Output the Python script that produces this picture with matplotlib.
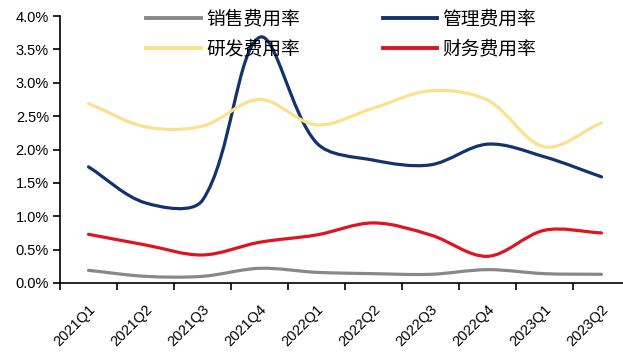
import numpy as np
import matplotlib
matplotlib.use("Agg")
from matplotlib import pyplot as plt
from matplotlib.path import Path
from matplotlib.patches import PathPatch
from matplotlib.lines import Line2D

plt.rcParams['font.family'] = ['Liberation Sans', 'Noto Sans CJK SC', 'DejaVu Sans']

quarters = ["2021Q1", "2021Q2", "2021Q3", "2021Q4", "2022Q1",
            "2022Q2", "2022Q3", "2022Q4", "2023Q1", "2023Q2"]

# values in %
sales = [0.19, 0.10, 0.10, 0.22, 0.16, 0.14, 0.13, 0.20, 0.14, 0.13]
admin = [1.74, 1.20, 1.24, 3.68, 2.10, 1.84, 1.77, 2.08, 1.89, 1.59]
rnd = [2.69, 2.34, 2.35, 2.75, 2.37, 2.62, 2.88, 2.74, 2.04, 2.40]
finance = [0.73, 0.57, 0.42, 0.61, 0.72, 0.90, 0.72, 0.40, 0.79, 0.75]

names = ["销售费用率", "管理费用率", "研发费用率", "财务费用率"]
colors = ["#888888", "#12336e", "#fde08e", "#de1520"]

# pixels per x unit / per 1%, used so the smoothing behaves like on screen
SX, SY = 57.0, 66.8


def smooth_path(x, y):
    # smoothed line: bezier segments, tangents weighted by segment length
    pts = np.column_stack([np.asarray(x) * SX, np.asarray(y) * SY]).astype(float)
    n = len(pts)
    d = np.hypot(*np.diff(pts, axis=0).T)
    verts = [pts[0]]
    codes = [Path.MOVETO]
    for i in range(n - 1):
        p1, p2 = pts[i], pts[i + 1]
        if i > 0:
            c1 = p1 + (p2 - pts[i - 1]) * d[i] / (3 * (d[i - 1] + d[i]))
        else:
            c1 = p1 + (p2 - p1) / 3.0
        if i + 2 < n:
            c2 = p2 - (pts[i + 2] - p1) * d[i] / (3 * (d[i] + d[i + 1]))
        else:
            c2 = p2 - (p2 - p1) / 3.0
        verts += [c1, c2, p2]
        codes += [Path.CURVE4] * 3
    verts = np.array(verts) / [SX, SY]
    return Path(verts, codes)


fig = plt.figure(figsize=(6.23, 3.52), dpi=100)
ax = fig.add_axes([60 / 623, 1 - 283 / 352, 570 / 623, (283 - 16) / 352])

x = np.arange(len(quarters))
for vals, c in zip([sales, admin, rnd, finance], colors):
    patch = PathPatch(smooth_path(x, vals), facecolor="none", edgecolor=c,
                      lw=2.3, capstyle="round", joinstyle="round")
    ax.add_patch(patch)

ax.set_xlim(-0.5, len(quarters) - 0.5)
ax.set_ylim(0, 4.0)
ax.set_yticks(np.arange(0, 4.01, 0.5))
ax.set_yticklabels([f"{v:.1f}%" for v in np.arange(0, 4.01, 0.5)], fontsize=10.5)

ax.set_xticks(x)
ax.set_xticklabels(quarters, rotation=45, ha="right", rotation_mode="anchor", fontsize=10.5)
ax.set_xticks(np.arange(-0.5, len(quarters), 1), minor=True)
ax.tick_params(axis="x", which="major", length=0, pad=14)
ax.tick_params(axis="x", which="minor", length=5, width=1.2, direction="out")
ax.tick_params(axis="y", length=5, width=1.2, direction="out", pad=3)

for s in ["top", "right"]:
    ax.spines[s].set_visible(False)
for s in ["left", "bottom"]:
    ax.spines[s].set_linewidth(1.2)

handles = [Line2D([], [], color=c, lw=2.8) for c in colors]
# order so that columns read: 销售/研发 left, 管理/财务 right
order = [0, 2, 1, 3]
fig.legend([handles[i] for i in order], [names[i] for i in order],
           ncol=2, loc="upper center", bbox_to_anchor=(0.548, 1.024),
           frameon=False, handlelength=2.9, handletextpad=0.3,
           columnspacing=4.4, labelspacing=0.5,
           prop={"family": ["Noto Sans CJK SC"], "size": 13.5})

fig.savefig("out.png", dpi=100)
